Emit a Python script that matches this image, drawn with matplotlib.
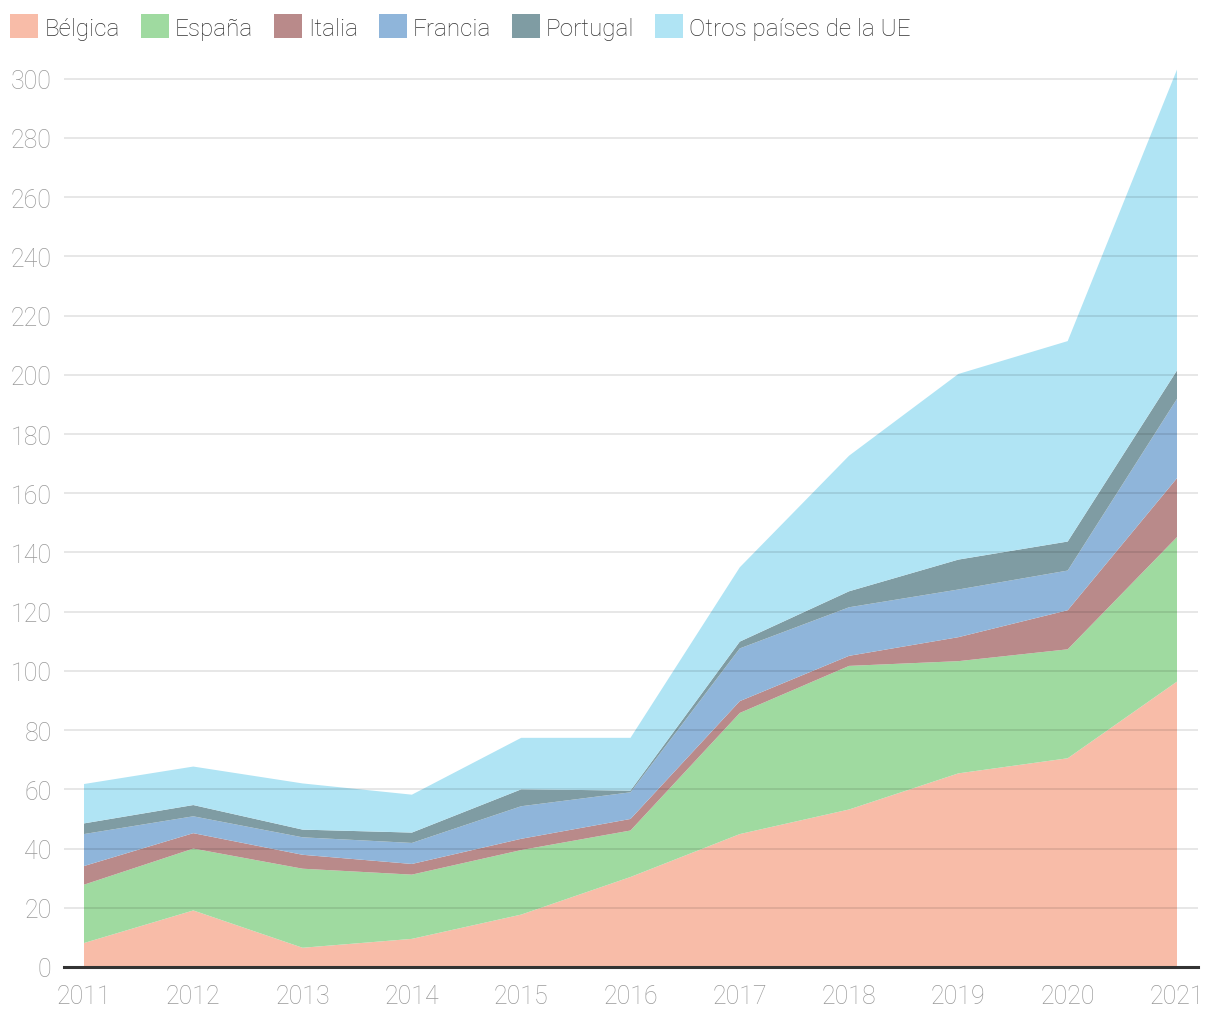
import matplotlib
matplotlib.use("Agg")
import matplotlib.pyplot as plt
from matplotlib.patches import Patch

years = [2011, 2012, 2013, 2014, 2015, 2016, 2017, 2018, 2019, 2020, 2021]
belgica = [8.1, 19.1, 6.5, 9.5, 17.7, 30.4, 44.9, 53.2, 65.4, 70.5, 96.4]
espana = [19.7, 20.9, 26.7, 21.7, 21.8, 15.7, 40.9, 48.5, 37.9, 36.8, 48.8]
italia = [6.3, 5.2, 4.7, 3.6, 3.8, 3.9, 4.0, 3.4, 8.1, 13.2, 19.9]
francia = [10.8, 5.7, 5.9, 7.1, 11.0, 9.0, 17.8, 16.4, 16.1, 13.4, 26.8]
portugal = [3.6, 3.8, 2.6, 3.5, 5.7, 0.6, 2.3, 5.4, 10.1, 9.8, 9.6]
otros = [13.3, 13.0, 15.6, 12.8, 17.4, 17.8, 25.1, 45.8, 62.7, 67.7, 101.6]

labels = ["Bélgica", "España", "Italia", "Francia", "Portugal", "Otros países de la UE"]
colors = ["#f8bca8", "#9fdaa0", "#b98a8a", "#8fb5da", "#7f9ca3", "#b0e4f4"]
yticks = list(range(0, 301, 20))

plt.rcParams['font.family'] = ['Roboto', 'DejaVu Sans']

fig = plt.figure(figsize=(12.2, 10.2), dpi=100)
ax = fig.add_axes([64/1220, 52/1020, (1198-64)/1220, (968-62)/1020])

ax.stackplot(years, belgica, espana, italia, francia, portugal, otros,
             colors=colors, linewidth=0, zorder=1)

ax.set_xlim(2011 - 20/109.3, 2021 + 21/109.3)
ax.set_ylim(0, 306)
ax.set_yticks(yticks)
ax.set_xticks(years)
ax.set_xticklabels([str(y) for y in years])
ax.yaxis.grid(True, color='black', alpha=0.1, linewidth=1.3, zorder=2)
ax.set_axisbelow(False)
for s in ['top', 'right', 'left']:
    ax.spines[s].set_visible(False)
ax.spines['bottom'].set_color('#333333')
ax.spines['bottom'].set_linewidth(2.2)
ax.spines['bottom'].set_zorder(3)
ax.tick_params(axis='both', length=0, labelsize=18, labelcolor='#999999')
ax.tick_params(axis='y', pad=9)
ax.tick_params(axis='x', pad=12)
for lab in ax.get_xticklabels() + ax.get_yticklabels():
    lab.set_fontweight('light')

handles = [Patch(facecolor=c, edgecolor='none') for c in colors]
leg = fig.legend(handles, labels, loc='upper left', bbox_to_anchor=(3/1220, 1 - 8/1020),
                 ncol=6, frameon=False, fontsize=17.5, handlelength=1.15, handleheight=1.15,
                 handletextpad=0.25, columnspacing=0.86, borderaxespad=0, borderpad=0.3)
for t in leg.get_texts():
    t.set_color('#333333')
    t.set_fontweight('light')

fig.savefig("out.png", dpi=100)
